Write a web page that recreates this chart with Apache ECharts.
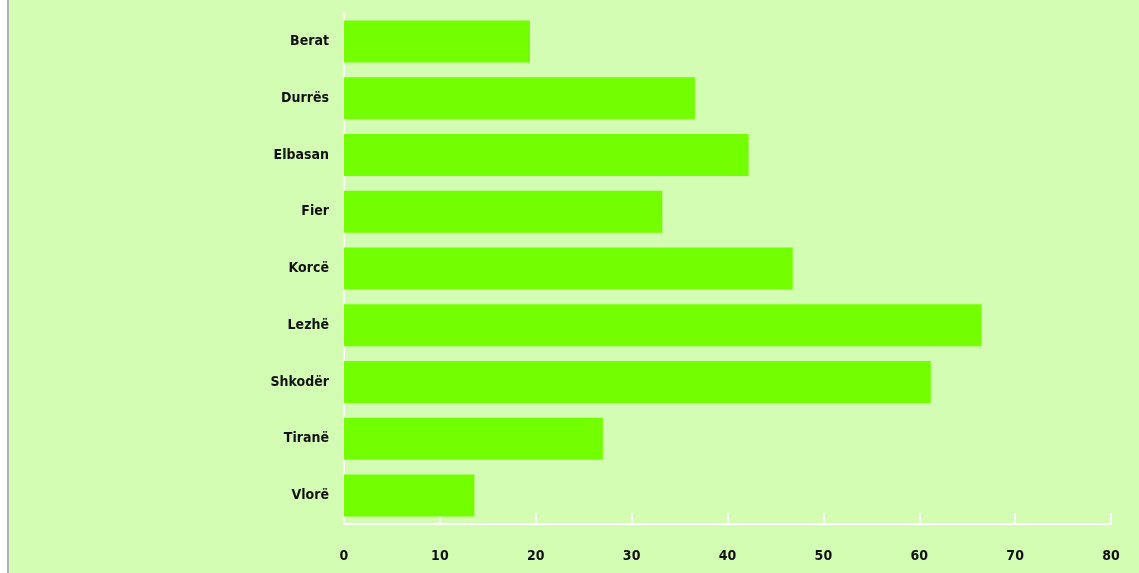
<!DOCTYPE html>
<html>
<head>
<meta charset="utf-8">
<script src="https://cdn.jsdelivr.net/npm/echarts@6/dist/echarts.min.js"></script>
<style>
html,body{margin:0;padding:0;background:#ffffff;}
#chart{width:1139px;height:573px;}
</style>
</head>
<body>
<div id="chart"></div>
<script>
var categories = ['Berat', 'Durrës', 'Elbasan', 'Fier', 'Korcë', 'Lezhë', 'Shkodër', 'Tiranë', 'Vlorë'];
var values = [19.4, 36.6, 42.2, 33.2, 46.8, 66.5, 61.2, 27.0, 13.6];
var xTicks = { min: 0, max: 80, interval: 10 };

var FONT = "'Liberation Sans Narrow', 'DejaVu Sans Condensed', sans-serif";
var chart = echarts.init(document.getElementById('chart'), null, { renderer: 'canvas' });
chart.setOption({
  backgroundColor: '#D4FDB4',
  animation: false,
  graphic: [
    { type: 'rect', left: 0, top: 0, shape: { width: 7, height: 573 }, style: { fill: '#ffffff' }, z: 0 },
    { type: 'rect', left: 7, top: 0, shape: { width: 2, height: 573 }, style: { fill: '#b0b0b0' }, z: 0 }
  ],
  grid: { left: 344, right: 28, top: 13, bottom: 49, containLabel: false },
  xAxis: {
    type: 'value',
    min: xTicks.min, max: xTicks.max, interval: xTicks.interval,
    axisLine: { show: true, lineStyle: { color: '#ffffff', width: 2 } },
    axisTick: { show: true, inside: true, length: 11, lineStyle: { color: '#ffffff', width: 2 } },
    splitLine: { show: false },
    axisLabel: { color: '#111111', fontFamily: FONT, fontWeight: 'bold', fontSize: 14, margin: 25 }
  },
  yAxis: {
    type: 'category',
    data: categories,
    inverse: true,
    axisLine: { show: true, lineStyle: { color: '#ffffff', width: 2 } },
    axisTick: { show: false },
    axisLabel: { color: '#111111', fontFamily: FONT, fontWeight: 'bold', fontSize: 14, margin: 15 }
  },
  series: [{
    type: 'bar',
    data: values,
    barCategoryGap: '26%',
    itemStyle: { color: '#73FF00' }
  }]
});
</script>
</body>
</html>
